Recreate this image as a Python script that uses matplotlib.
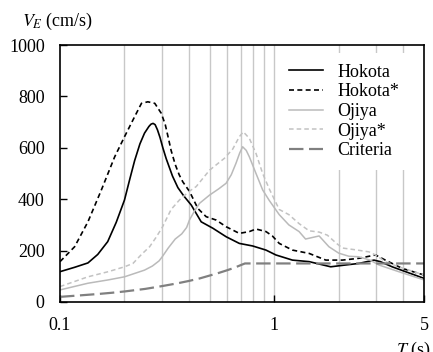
import matplotlib
matplotlib.use("Agg")
import matplotlib.pyplot as plt

plt.rcParams['font.family'] = ['Liberation Serif', 'DejaVu Serif']
plt.rcParams['mathtext.fontset'] = 'stix'
plt.rcParams['font.size'] = 13

# Hokota
hok_T = [0.1, 0.117, 0.135, 0.15, 0.167, 0.183, 0.2, 0.212, 0.223, 0.236, 0.248,
         0.26, 0.266, 0.272, 0.278, 0.285, 0.293, 0.302, 0.313, 0.335, 0.355,
         0.378, 0.41, 0.456, 0.517, 0.596, 0.687, 0.793, 0.915, 1.018, 1.216,
         1.455, 1.835, 2.15, 2.48, 2.92, 3.13, 3.55, 4.1, 5.0]
hok_V = [118, 135, 152, 185, 235, 310, 397, 480, 550, 615, 657,
         683, 692, 695, 690, 670, 640, 600, 558, 490, 445,
         413, 377, 312, 287, 254, 228, 218, 202, 183, 163,
         157, 137, 144, 150, 163, 157, 137, 118, 92]

# Hokota*
hoks_T = [0.1, 0.117, 0.135, 0.156, 0.18, 0.2, 0.223, 0.24, 0.257, 0.277, 0.297,
          0.31, 0.32, 0.33, 0.345, 0.36, 0.374, 0.403, 0.44, 0.481, 0.535,
          0.596, 0.687, 0.765, 0.822, 0.915, 0.98, 1.055, 1.216, 1.455, 1.74,
          2.08, 2.48, 2.97, 3.3, 3.95, 5.0]
hoks_V = [157, 215, 312, 436, 565, 643, 721, 773, 779, 773, 734,
          690, 640, 590, 535, 495, 468, 429, 364, 332, 319,
          293, 267, 274, 284, 274, 257, 228, 202, 189, 163,
          163, 170, 183, 163, 131, 105]

# Ojiya
oji_T = [0.1, 0.135, 0.168, 0.2, 0.248, 0.27, 0.29, 0.3, 0.32, 0.345, 0.37,
         0.39, 0.402, 0.425, 0.448, 0.499, 0.55, 0.596, 0.63, 0.663, 0.69,
         0.712, 0.74, 0.765, 0.822, 0.883, 0.948, 1.055, 1.17, 1.306, 1.4,
         1.62, 1.8, 2.0, 2.23, 2.48, 2.8, 3.08, 3.81, 5.0]
oji_V = [47, 73, 86, 98, 124, 140, 160, 176, 210, 245, 265,
         290, 319, 355, 384, 416, 440, 462, 495, 540, 580,
         604, 590, 565, 500, 436, 395, 340, 300, 274, 245,
         257, 215, 190, 178, 176, 163, 144, 118, 86]

# Ojiya*
ojis_T = [0.1, 0.135, 0.168, 0.2, 0.219, 0.24, 0.262, 0.28, 0.3, 0.33, 0.361,
          0.4, 0.432, 0.499, 0.585, 0.64, 0.687, 0.717, 0.765, 0.822, 0.883,
          0.948, 1.055, 1.17, 1.306, 1.455, 1.62, 1.77, 1.94, 2.08, 2.4,
          2.77, 2.97, 3.3, 3.81, 5.0]
ojis_V = [60, 98, 118, 137, 150, 185, 215, 250, 290, 360, 397,
          430, 449, 513, 559, 595, 643, 662, 637, 578, 500,
          440, 360, 340, 305, 277, 272, 260, 230, 210, 203,
          195, 183, 157, 137, 105]

# Criteria
cri_T = [0.1, 0.125, 0.15, 0.175, 0.2, 0.25, 0.3, 0.35, 0.4, 0.45, 0.5, 0.55,
         0.6, 0.65, 0.7, 0.73, 1.0, 2.0, 5.0]
cri_V = [20, 26, 31, 36, 41, 51, 62, 72, 82, 92, 103, 113,
         123, 133, 144, 150, 150, 150, 150]

grid_T = [0.2, 0.3, 0.4, 0.5, 0.6, 0.7, 0.8, 0.9, 1, 2, 3, 4]

fig = plt.figure(figsize=(4.33, 3.52), dpi=100)
ax = fig.add_axes([60/433, 1-302/352, 364/433, 257/352])

for g in grid_T:
    ax.axvline(g, color='#c8c8c8', lw=1.0, zorder=0)

ax.plot(hok_T, hok_V, color='black', lw=1.2, label='Hokota')
ax.plot(hoks_T, hoks_V, color='black', lw=1.2, ls=(0, (3, 2)), label='Hokota*')
ax.plot(oji_T, oji_V, color='#bababa', lw=1.1, label='Ojiya')
ax.plot(ojis_T, ojis_V, color='#c2c2c2', lw=1.1, ls=(0, (3, 2)), label='Ojiya*')
ax.plot(cri_T, cri_V, color='#808080', lw=1.6, ls=(0, (6.5, 2.5)), label='Criteria')

ax.set_xscale('log')
ax.set_xlim(0.1, 5)
ax.set_ylim(0, 1000)
ax.set_xticks([0.1, 1, 5])
ax.set_xticklabels(['0.1', '1', '5'])
ax.xaxis.set_minor_locator(matplotlib.ticker.NullLocator())
ax.set_yticks([0, 200, 400, 600, 800, 1000])
ax.tick_params(direction='in', length=5, width=1, pad=11, labelsize=13)
for s in ax.spines.values():
    s.set_linewidth(1.2)

leg = ax.legend(loc='upper right', bbox_to_anchor=(0.986, 1.005), frameon=True,
                fancybox=False, edgecolor='none', facecolor='white', framealpha=1,
                handlelength=1.85, handletextpad=0.8, labelspacing=0.15,
                borderpad=0.6, fontsize=13)

fig.text(22/433, 1-26/352, r'$V_E$ (cm/s)', fontsize=13, va='baseline')
fig.text(396/433, -3/352, r'$T$ (s)', fontsize=13, va='baseline')

fig.savefig('out.png', dpi=100)
